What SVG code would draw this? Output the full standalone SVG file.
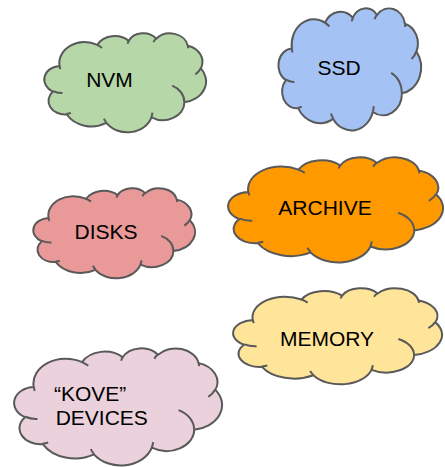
<svg xmlns="http://www.w3.org/2000/svg" xmlns:xlink="http://www.w3.org/1999/xlink" width="445" height="467" viewBox="0 0 445 467">
<style>
.cl{stroke:#595959;stroke-width:2;stroke-linejoin:round}
.hk{fill:none}
.t{font-family:"Liberation Sans",Arial,sans-serif;font-size:21px;fill:#000}
.m{text-anchor:middle}
</style>
<defs>
<path id="cloud" vector-effect="non-scaling-stroke" d="M9.03,33.26 A15.63,21.27 0 0 1 32.42,12.04 A12.35,16.82 0 0 1 51.98,7.94 A10.10,13.76 0 0 1 69.06,5.74 A11.24,15.27 0 0 1 88.70,12.91 A12.35,16.84 0 0 1 96.80,35.79 A15.68,21.34 0 0 1 86.58,69.91 A13.39,18.21 0 0 1 66.10,85.22 A15.63,21.33 0 0 1 38.15,90.89 A17.87,24.41 0 0 1 13.44,82.11 A10.09,13.70 0 0 1 4.89,59.14 A10.06,13.76 0 0 1 9.03,33.26 Z"/>
<path id="hooks" vector-effect="non-scaling-stroke" d="M10.86,60.60 A10.06,13.76 0 0 1 5.00,58.75 M16.04,80.78 A10.09,13.70 0 0 1 13.47,81.67 M38.14,90.49 A15.63,21.33 0 0 1 36.60,86.46 M66.73,80.44 A15.63,21.33 0 0 1 66.11,84.86 M79.00,53.13 A13.39,18.21 0 0 1 86.53,69.65 M96.75,35.54 A12.35,16.84 0 0 1 93.40,41.74 M88.71,12.56 A11.24,15.27 0 0 1 88.89,15.49 M67.31,9.15 A11.24,15.27 0 0 1 69.03,5.42 M51.25,10.93 A10.10,13.76 0 0 1 52.08,7.71 M32.41,12.02 A15.63,21.27 0 0 1 35.42,15.14 M9.55,36.55 A15.63,21.27 0 0 1 9.03,33.26"/>
</defs>
<g id="connectors"></g>
<g id="nvm">
<g transform="translate(45,33) scale(1.61,0.99)"><use xlink:href="#cloud" class="cl" fill="#b6d7a8"/><use xlink:href="#hooks" class="cl hk"/></g>
<text class="t m" x="109.5" y="86.7">NVM</text>
</g>
<g id="ssd">
<g transform="translate(279,8) scale(1.42,1.22)"><use xlink:href="#cloud" class="cl" fill="#a4c2f4"/><use xlink:href="#hooks" class="cl hk"/></g>
<text class="t m" x="339" y="75">SSD</text>
</g>
<g id="disks">
<g transform="translate(34,188) scale(1.61,0.90)"><use xlink:href="#cloud" class="cl" fill="#ea9999"/><use xlink:href="#hooks" class="cl hk"/></g>
<text class="t m" x="106" y="239">DISKS</text>
</g>
<g id="archive">
<g transform="translate(229,157) scale(2.14,1.05)"><use xlink:href="#cloud" class="cl" fill="#ff9900"/><use xlink:href="#hooks" class="cl hk"/></g>
<text class="t m" x="325" y="214.5">ARCHIVE</text>
</g>
<g id="memory">
<g transform="translate(234,288) scale(2.08,0.96)"><use xlink:href="#cloud" class="cl" fill="#ffe599"/><use xlink:href="#hooks" class="cl hk"/></g>
<text class="t m" x="327" y="346">MEMORY</text>
</g>
<g id="kove">
<g transform="translate(15,348) scale(2.07,1.17)"><use xlink:href="#cloud" class="cl" fill="#ead1dc"/><use xlink:href="#hooks" class="cl hk"/></g>
<text class="t" x="54" y="400.5">“KOVE”</text>
<text class="t" x="55.7" y="425">DEVICES</text>
</g>
</svg>
